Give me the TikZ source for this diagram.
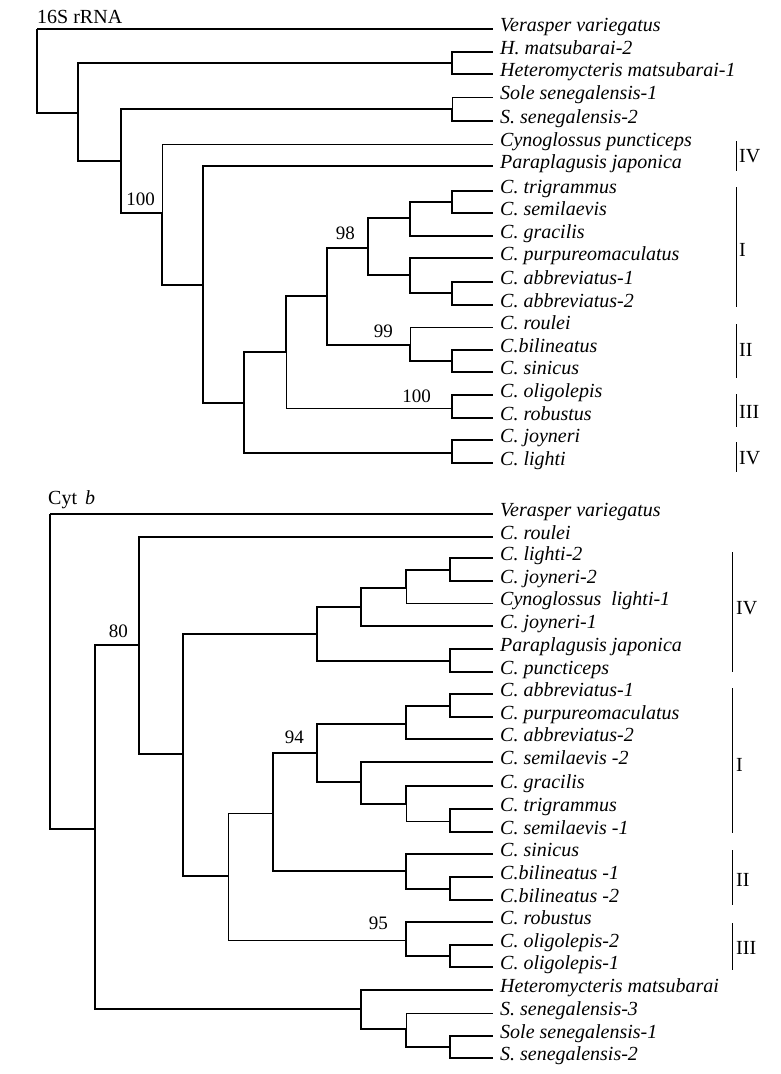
\documentclass[tikz,border=0pt]{standalone}
\usepackage{fontspec}
\setmainfont{Liberation Serif}
\begin{document}
\begin{tikzpicture}[x=1pt,y=-1pt,
  br/.style={line width=1.3pt},
  thin/.style={line width=0.7pt},
  leaf/.style={anchor=mid west, inner xsep=7pt, inner ysep=0pt, font=\fontsize{20}{22}\selectfont\itshape},
  bs/.style={anchor=base east, inner sep=0pt, font=\fontsize{19}{22}\selectfont},
  grp/.style={anchor=west, inner sep=0pt, font=\fontsize{20}{22}\selectfont},
  bar/.style={line width=1pt},
  ttl/.style={anchor=base west, inner sep=0pt, font=\fontsize{20}{22}\selectfont}]
\useasboundingbox (0,0) rectangle (781,1074);

% ---------------- 16S rRNA ----------------
\node[ttl] (title1) at (37,23) {16S rRNA};

\node[leaf] (t1)  at (493,29)  {Verasper variegatus};
\node[leaf] (t2)  at (493,52)  {H. matsubarai-2};
\node[leaf] (t3)  at (493,74)  {Heteromycteris matsubarai-1};
\node[leaf] (t4)  at (493,97)  {Sole senegalensis-1};
\node[leaf] (t5)  at (493,121) {S. senegalensis-2};
\node[leaf] (t6)  at (493,144) {Cynoglossus puncticeps};
\node[leaf] (t7)  at (493,166) {Paraplagusis japonica};
\node[leaf] (t8)  at (493,191) {C. trigrammus};
\node[leaf] (t9)  at (493,213) {C. semilaevis};
\node[leaf] (t10) at (493,236) {C. gracilis};
\node[leaf] (t11) at (493,258) {C. purpureomaculatus};
\node[leaf] (t12) at (493,282) {C. abbreviatus-1};
\node[leaf] (t13) at (493,305) {C. abbreviatus-2};
\node[leaf] (t14) at (493,327) {C. roulei};
\node[leaf] (t15) at (493,350) {C.bilineatus};
\node[leaf] (t16) at (493,372) {C. sinicus};
\node[leaf] (t17) at (493,395) {C. oligolepis};
\node[leaf] (t18) at (493,418) {C. robustus};
\node[leaf] (t19) at (493,440) {C. joyneri};
\node[leaf] (t20) at (493,463) {C. lighti};

\coordinate (r)  at (37,29);
\coordinate (a)  at (78,113);
\coordinate (p23) at (452,63);
\coordinate (b)  at (121,161);
\coordinate (p45) at (452,109);
\coordinate (c)  at (162,213);
\coordinate (d)  at (203,285);
\coordinate (e)  at (244,403);
\coordinate (p1920) at (452,453);
\coordinate (f)  at (286,352);
\coordinate (p1718) at (452,408);
\coordinate (g)  at (327,296);
\coordinate (h)  at (368,248);
\coordinate (j)  at (410,218);
\coordinate (p89) at (452,202);
\coordinate (k)  at (410,275);
\coordinate (p1213) at (452,293);
\coordinate (i)  at (410,345);
\coordinate (p1516) at (452,361);

\draw[br] (r) |- (t1.mid west);
\draw[br] (r) |- (a);
\draw[br] (a) |- (p23);
\draw[br] (a) |- (b);
\draw[br] (p23) |- (t2.mid west);
\draw[br] (p23) |- (t3.mid west);
\draw[br] (b) |- (p45);
\draw[br] (b) |- (c);
\draw[thin] (p45) |- (t4.mid west);
\draw[br] (p45) |- (t5.mid west);
\draw[thin] (c) |- (t6.mid west);
\draw[br] (c) |- (d);
\draw[br] (d) |- (t7.mid west);
\draw[br] (d) |- (e);
\draw[br] (e) |- (f);
\draw[br] (e) |- (p1920);
\draw[br] (p1920) |- (t19.mid west);
\draw[br] (p1920) |- (t20.mid west);
\draw[br] (f) |- (g);
\draw[thin] (f) |- (p1718);
\draw[br] (p1718) |- (t17.mid west);
\draw[br] (p1718) |- (t18.mid west);
\draw[br] (g) |- (h);
\draw[br] (g) |- (i);
\draw[br] (h) |- (j);
\draw[br] (h) |- (k);
\draw[br] (j) |- (p89);
\draw[br] (j) |- (t10.mid west);
\draw[br] (p89) |- (t8.mid west);
\draw[br] (p89) |- (t9.mid west);
\draw[br] (k) |- (t11.mid west);
\draw[br] (k) |- (p1213);
\draw[br] (p1213) |- (t12.mid west);
\draw[br] (p1213) |- (t13.mid west);
\draw[thin] (i) |- (t14.mid west);
\draw[br] (i) |- (p1516);
\draw[br] (p1516) |- (t15.mid west);
\draw[br] (p1516) |- (t16.mid west);

\node[bs] (n100a) at (155,205) {100};
\node[bs] (n98)   at (355,239) {98};
\node[bs] (n99)   at (393,337) {99};
\node[bs] (n100b) at (431,402) {100};

% group bars, top
\coordinate (ga1) at (736,141); \coordinate (gb1) at (736,171);
\draw[bar] (ga1) -- (gb1); \node[grp] (G1) at (739,156) {IV};
\coordinate (ga2) at (736,187); \coordinate (gb2) at (736,307);
\draw[bar] (ga2) -- (gb2); \node[grp] (G2) at (739,250) {I};
\coordinate (ga3) at (736,324); \coordinate (gb3) at (736,378);
\draw[bar] (ga3) -- (gb3); \node[grp] (G3) at (739,350) {II};
\coordinate (ga4) at (736,394); \coordinate (gb4) at (736,427);
\draw[bar] (ga4) -- (gb4); \node[grp] (G4) at (739,412) {III};
\coordinate (ga5) at (736,442); \coordinate (gb5) at (736,472);
\draw[bar] (ga5) -- (gb5); \node[grp] (G5) at (739,458) {IV};

% ---------------- Cyt b ----------------
\node[ttl] (title2) at (48,504) {Cyt\hspace{8pt}\textit{b}};

\node[leaf] (u1)  at (493,514)  {Verasper variegatus};
\node[leaf] (u2)  at (493,537)  {C. roulei};
\node[leaf] (u3)  at (493,558)  {C. lighti-2};
\node[leaf] (u4)  at (493,581)  {C. joyneri-2};
\node[leaf] (u5)  at (493,603)  {Cynoglossus\ \ lighti-1};
\node[leaf] (u6)  at (493,626)  {C. joyneri-1};
\node[leaf] (u7)  at (493,649)  {Paraplagusis japonica};
\node[leaf] (u8)  at (493,672)  {C. puncticeps};
\node[leaf] (u9)  at (493,694)  {C. abbreviatus-1};
\node[leaf] (u10) at (493,717)  {C. purpureomaculatus};
\node[leaf] (u11) at (493,739)  {C. abbreviatus-2};
\node[leaf] (u12) at (493,762)  {C. semilaevis -2};
\node[leaf] (u13) at (493,786)  {C. gracilis};
\node[leaf] (u14) at (493,809)  {C. trigrammus};
\node[leaf] (u15) at (493,832)  {C. semilaevis -1};
\node[leaf] (u16) at (493,854)  {C. sinicus};
\node[leaf] (u17) at (493,877)  {C.bilineatus -1};
\node[leaf] (u18) at (493,900)  {C.bilineatus -2};
\node[leaf] (u19) at (493,922)  {C. robustus};
\node[leaf] (u20) at (493,945)  {C. oligolepis-2};
\node[leaf] (u21) at (493,967)  {C. oligolepis-1};
\node[leaf] (u22) at (493,990)  {Heteromycteris matsubarai};
\node[leaf] (u23) at (493,1013) {S. senegalensis-3};
\node[leaf] (u24) at (493,1036) {Sole senegalensis-1};
\node[leaf] (u25) at (493,1058) {S. senegalensis-2};

\coordinate (R)  at (50,514);
\coordinate (A)  at (95,829);
\coordinate (B)  at (139,645);
\coordinate (C)  at (183,754);
\coordinate (D)  at (317,634);
\coordinate (q78) at (450,661);
\coordinate (F)  at (361,607);
\coordinate (G)  at (406,588);
\coordinate (q34) at (450,570);
\coordinate (E)  at (228,876);
\coordinate (H)  at (273,813);
\coordinate (I)  at (317,753);
\coordinate (J)  at (406,724);
\coordinate (q910) at (450,706);
\coordinate (K)  at (361,782);
\coordinate (L)  at (406,804);
\coordinate (q1415) at (450,821);
\coordinate (S)  at (406,871);
\coordinate (q1718) at (450,889);
\coordinate (Q)  at (406,940);
\coordinate (q2021) at (450,956);
\coordinate (M)  at (361,1009);
\coordinate (N)  at (406,1029);
\coordinate (q2425) at (450,1047);

\draw[br] (R) |- (u1.mid west);
\draw[br] (R) |- (A);
\draw[br] (A) |- (B);
\draw[br] (A) |- (M);
\draw[br] (B) |- (u2.mid west);
\draw[br] (B) |- (C);
\draw[br] (C) |- (D);
\draw[br] (C) |- (E);
\draw[br] (D) |- (F);
\draw[br] (D) |- (q78);
\draw[br] (q78) |- (u7.mid west);
\draw[br] (q78) |- (u8.mid west);
\draw[br] (F) |- (G);
\draw[br] (F) |- (u6.mid west);
\draw[br] (G) |- (q34);
\draw[thin] (G) |- (u5.mid west);
\draw[br] (q34) |- (u3.mid west);
\draw[br] (q34) |- (u4.mid west);
\draw[thin] (E) |- (H);
\draw[thin] (E) |- (Q);
\draw[br] (H) |- (I);
\draw[br] (H) |- (S);
\draw[br] (I) |- (J);
\draw[br] (I) |- (K);
\draw[br] (J) |- (q910);
\draw[br] (J) |- (u11.mid west);
\draw[br] (q910) |- (u9.mid west);
\draw[br] (q910) |- (u10.mid west);
\draw[br] (K) |- (u12.mid west);
\draw[br] (K) |- (L);
\draw[br] (L) |- (u13.mid west);
\draw[thin] (L) |- (q1415);
\draw[br] (q1415) |- (u14.mid west);
\draw[br] (q1415) |- (u15.mid west);
\draw[br] (S) |- (u16.mid west);
\draw[br] (S) |- (q1718);
\draw[br] (q1718) |- (u17.mid west);
\draw[br] (q1718) |- (u18.mid west);
\draw[br] (Q) |- (u19.mid west);
\draw[br] (Q) |- (q2021);
\draw[br] (q2021) |- (u20.mid west);
\draw[br] (q2021) |- (u21.mid west);
\draw[br] (M) |- (u22.mid west);
\draw[br] (M) |- (N);
\draw[thin] (N) |- (u23.mid west);
\draw[br] (N) |- (q2425);
\draw[br] (q2425) |- (u24.mid west);
\draw[br] (q2425) |- (u25.mid west);

\node[bs] (n80) at (128,637) {80};
\node[bs] (n94) at (304,743) {94};
\node[bs] (n95) at (388,929) {95};

% group bars, bottom
\coordinate (ha1) at (732,552); \coordinate (hb1) at (732,672);
\draw[bar] (ha1) -- (hb1); \node[grp] (H1) at (736,608) {IV};
\coordinate (ha2) at (732,688); \coordinate (hb2) at (732,833);
\draw[bar] (ha2) -- (hb2); \node[grp] (H2) at (736,765) {I};
\coordinate (ha3) at (732,850); \coordinate (hb3) at (732,905);
\draw[bar] (ha3) -- (hb3); \node[grp] (H3) at (736,880) {II};
\coordinate (ha4) at (732,923); \coordinate (hb4) at (732,970);
\draw[bar] (ha4) -- (hb4); \node[grp] (H4) at (736,948) {III};
\end{tikzpicture}
\end{document}
